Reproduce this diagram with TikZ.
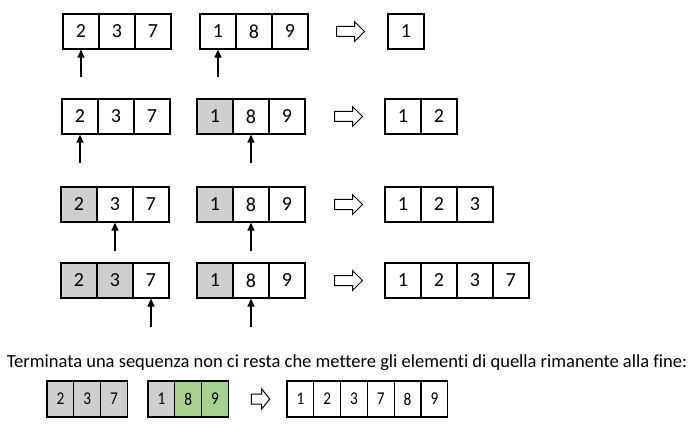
\documentclass[tikz,border=0pt]{standalone}
\usepackage{fontspec}
\setmainfont{Carlito}[Ligatures=NoCommon]
\usepackage{tikz}
\usetikzlibrary{shapes.arrows}
\usetikzlibrary{arrows.meta}
\usetikzlibrary{calc}
\definecolor{used}{HTML}{D0CECE}
\definecolor{left}{HTML}{A9D18E}
\tikzstyle{cell} = [draw,line width=1.2pt,minimum width=36pt,minimum height=35pt,inner sep=0pt,font=\fontsize{20}{24}\selectfont]
\tikzstyle{cellsm} = [cell,minimum width=26.8pt,minimum height=36pt,font=\fontsize{18}{22}\selectfont]
\tikzstyle{hollow} = [draw,single arrow,line width=1pt,fill=white,inner sep=0pt,inner ysep=4.5pt,minimum height=28pt,single arrow head extend=5pt]
\tikzstyle{ptr} = [line width=1.2pt,-{Triangle[length=8pt,width=7pt]}]

\begin{document}
\begin{tikzpicture}[x=1pt,y=-1pt]
\useasboundingbox (0,0) rectangle (700,446);

% step 1
\foreach \v/\f [count=\i] in {2/white,3/white,7/white} \node[cell,fill=\f] (a1\i) at ({81+36*(\i-1)},31.5) {\v};
\foreach \v/\f [count=\i] in {1/white,8/white,9/white} \node[cell,fill=\f] (b1\i) at ({218+36*(\i-1)},31.5) {\v};
\node[hollow] (h1) at (348,31.5) {};
\foreach \v [count=\i] in {1} \node[cell] (r1\i) at ({406+36*(\i-1)},31.5) {\v};
\coordinate (pa1) at ([yshift=-27pt]a11.south);
\coordinate (pb1) at ([yshift=-27pt]b11.south);
\draw[ptr] (pa1) -- (a11);
\draw[ptr] (pb1) -- (b11);

% step 2
\foreach \v/\f [count=\i] in {2/white,3/white,7/white} \node[cell,fill=\f] (a2\i) at ({80+36*(\i-1)},116.5) {\v};
\foreach \v/\f [count=\i] in {1/used,8/white,9/white} \node[cell,fill=\f] (b2\i) at ({215+36*(\i-1)},116.5) {\v};
\node[hollow] (h2) at (346,116.5) {};
\foreach \v [count=\i] in {1,2} \node[cell] (r2\i) at ({403+36*(\i-1)},116.5) {\v};
\coordinate (pa2) at ([yshift=-28pt]a21.south);
\coordinate (pb2) at ([yshift=-28pt]b22.south);
\draw[ptr] (pa2) -- (a21);
\draw[ptr] (pb2) -- (b22);

% step 3
\foreach \v/\f [count=\i] in {2/used,3/white,7/white} \node[cell,fill=\f] (a3\i) at ({79+36*(\i-1)},204.5) {\v};
\foreach \v/\f [count=\i] in {1/used,8/white,9/white} \node[cell,fill=\f] (b3\i) at ({215+36*(\i-1)},204.5) {\v};
\node[hollow] (h3) at (346,204.5) {};
\foreach \v [count=\i] in {1,2,3} \node[cell] (r3\i) at ({403+36*(\i-1)},204.5) {\v};
\coordinate (pa3) at ([yshift=-28pt]a32.south);
\coordinate (pb3) at ([yshift=-28pt]b32.south);
\draw[ptr] (pa3) -- (a32);
\draw[ptr] (pb3) -- (b32);

% step 4
\foreach \v/\f [count=\i] in {2/used,3/used,7/white} \node[cell,fill=\f] (a4\i) at ({79+36*(\i-1)},280.5) {\v};
\foreach \v/\f [count=\i] in {1/used,8/white,9/white} \node[cell,fill=\f] (b4\i) at ({215+36*(\i-1)},280.5) {\v};
\node[hollow] (h4) at (346,280.5) {};
\foreach \v [count=\i] in {1,2,3,7} \node[cell] (r4\i) at ({403+36*(\i-1)},280.5) {\v};
\coordinate (pa4) at ([yshift=-28pt]a43.south);
\coordinate (pb4) at ([yshift=-28pt]b42.south);
\draw[ptr] (pa4) -- (a43);
\draw[ptr] (pb4) -- (b42);

% fine
\node[font=\fontsize{18.5}{22}\selectfont] (msg) at (347,363) {Terminata una sequenza non ci resta che mettere gli elementi di quella rimanente alla fine:};
\foreach \v/\f [count=\i] in {2/used,3/used,7/used} \node[cellsm,fill=\f] (a5\i) at ({60.4+26.8*(\i-1)},399) {\scalebox{0.85}[1]{\v}};
\foreach \v/\f [count=\i] in {1/used,8/left,9/left} \node[cellsm,fill=\f] (b5\i) at ({161.4+26.8*(\i-1)},399) {\scalebox{0.85}[1]{\v}};
\node[hollow,minimum height=23pt,xscale=0.8] (h5) at (258.5,399) {};
\foreach \v [count=\i] in {1,2,3,7,8,9} \node[cellsm] (r5\i) at ({300.4+26.8*(\i-1)},399) {\scalebox{0.85}[1]{\v}};

\end{tikzpicture}
\end{document}
